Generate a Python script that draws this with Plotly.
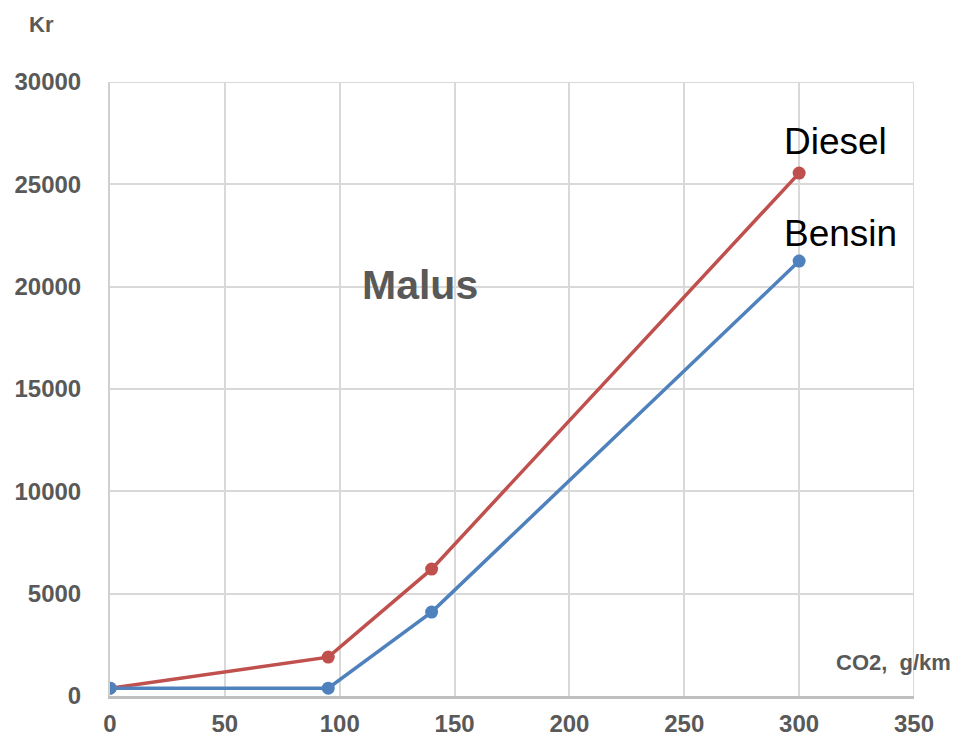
import plotly.graph_objects as go

co2 = [0, 95, 140, 300]
bensin = [380, 380, 4100, 21250]
diesel = [380, 1900, 6200, 25550]
x_ticks = [0, 50, 100, 150, 200, 250, 300, 350]
y_ticks = [0, 5000, 10000, 15000, 20000, 25000, 30000]

fig = go.Figure()
fig.add_trace(go.Scatter(x=co2, y=diesel, mode="lines+markers", name="Diesel",
                         line=dict(color="#C0504D", width=3.5),
                         marker=dict(color="#C0504D", size=13)))
fig.add_trace(go.Scatter(x=co2, y=bensin, mode="lines+markers", name="Bensin",
                         line=dict(color="#4F81BD", width=3.5),
                         marker=dict(color="#4F81BD", size=13)))

tickfont = dict(family="Liberation Sans, Arial", size=24, color="#595959", weight="bold")
fig.update_layout(
    width=969, height=743,
    margin=dict(l=102, r=63, t=74, b=55, autoexpand=False),
    paper_bgcolor="white", plot_bgcolor="white",
    showlegend=False,
    xaxis=dict(range=[0, 350], tickvals=x_ticks, tickformat="d", showgrid=True,
               gridcolor="#D9D9D9", gridwidth=2, zeroline=False, showline=True,
               linecolor="#BFBFBF", linewidth=2.5, tickfont=tickfont, ticks="",
               ticklabelstandoff=4),
    yaxis=dict(range=[0, 30000], tickvals=y_ticks, tickformat="d", showgrid=True,
               gridcolor="#D9D9D9", gridwidth=2, zeroline=False, showline=True,
               linecolor="#D0D0D0", linewidth=2, tickfont=tickfont, ticks="",
               ticklabelstandoff=22),
    font=dict(family="Liberation Sans, Arial"),
)
fig.add_shape(type="line", xref="x", yref="y", x0=0, x1=350, y0=30000, y1=30000,
              line=dict(color="#D9D9D9", width=2))
fig.add_shape(type="line", xref="x", yref="y", x0=350, x1=350, y0=0, y1=30000,
              line=dict(color="#D9D9D9", width=2))

fig.add_annotation(text="<b>Kr</b>", xref="paper", yref="paper", x=-0.0846, y=1.117,
                   xanchor="center", yanchor="top", showarrow=False,
                   font=dict(size=22, color="#595959"))
fig.add_annotation(text="<b>CO2,  g/km</b>", xref="paper", yref="paper", x=0.900, y=0.055,
                   xanchor="left", yanchor="middle", showarrow=False,
                   font=dict(size=22, color="#595959"))
fig.add_annotation(text="<b>Malus</b>", xref="x", yref="y", x=135, y=20080,
                   xanchor="center", yanchor="middle", showarrow=False,
                   font=dict(size=41, color="#595959"))
fig.add_annotation(text="Diesel", xref="x", yref="y", x=292.5, y=27070,
                   xanchor="left", yanchor="middle", showarrow=False,
                   font=dict(size=37, color="black"))
fig.add_annotation(text="Bensin", xref="x", yref="y", x=292.5, y=22620,
                   xanchor="left", yanchor="middle", showarrow=False,
                   font=dict(size=37, color="black"))

fig.write_html("out.html")
